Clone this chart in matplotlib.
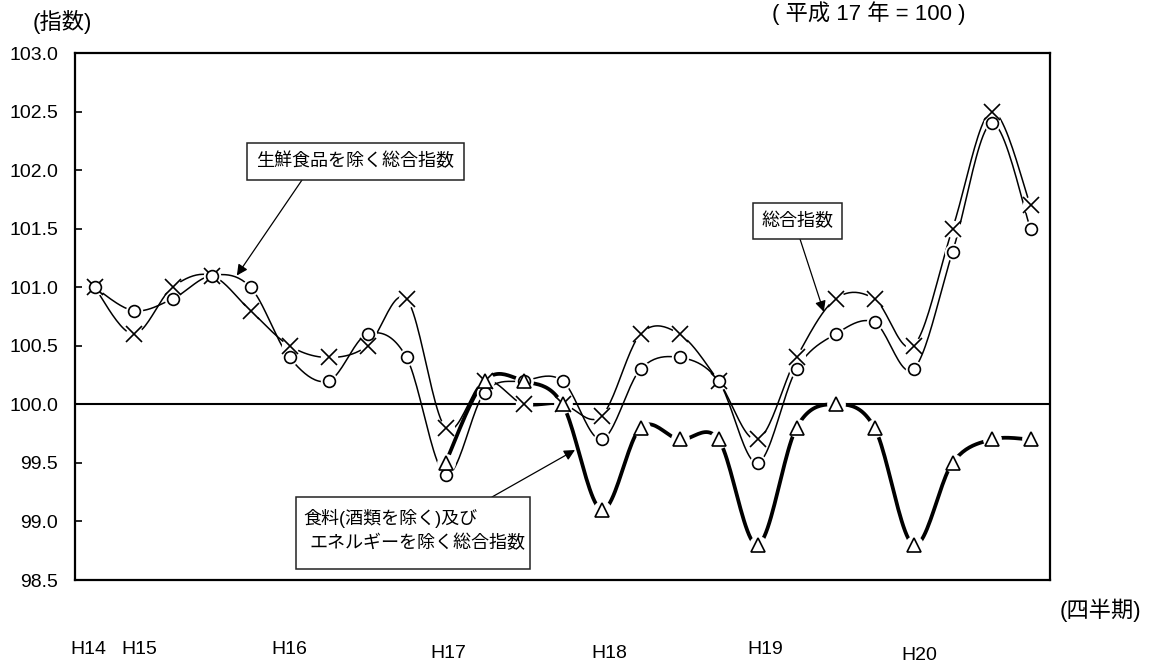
import numpy as np
import matplotlib
matplotlib.use("Agg")
import matplotlib.pyplot as plt
from matplotlib.patches import Rectangle

plt.rcParams['font.family'] = ['Liberation Sans', 'Noto Sans CJK JP', 'DejaVu Sans']

# ---- data: quarterly consumer price index (H17 = 100) ----
quarters = list(range(25))
headline = [101.0, 100.6, 101.0, 101.1, 100.8, 100.5, 100.4, 100.5, 100.9, 99.8,
            100.2, 100.0, 100.0, 99.9, 100.6, 100.6, 100.2, 99.7, 100.4, 100.9,
            100.9, 100.5, 101.5, 102.5, 101.7]
ex_fresh = [101.0, 100.8, 100.9, 101.1, 101.0, 100.4, 100.2, 100.6, 100.4, 99.4,
            100.1, 100.2, 100.2, 99.7, 100.3, 100.4, 100.2, 99.5, 100.3, 100.6,
            100.7, 100.3, 101.3, 102.4, 101.5]
core_start = 9
ex_food_energy = [99.5, 100.2, 100.2, 100.0, 99.1, 99.8, 99.7, 99.7, 98.8, 99.8,
                  100.0, 99.8, 98.8, 99.5, 99.7, 99.7]
year_labels = ["H14", "H15", "H16", "H17", "H18", "H19", "H20"]
y_ticks = [98.5, 99.0, 99.5, 100.0, 100.5, 101.0, 101.5, 102.0, 102.5, 103.0]

W, H = 1149, 666
fig = plt.figure(figsize=(W / 100, H / 100), dpi=100)


def fx(px):
    return px / W


def fy(py):
    return 1 - py / H


ax = fig.add_axes([fx(75), fy(580), fx(1050) - fx(75), fy(53) - fy(580)])
ax.set_xlim(-0.5, 24.5)
ax.set_ylim(98.5, 103.0)


def smooth(xs, ys, n=24):
    """Bezier smoothing through every point (Catmull-Rom style)."""
    P = np.column_stack([xs, ys]).astype(float)
    out = []
    for i in range(len(P) - 1):
        p0 = P[i - 1] if i > 0 else P[i]
        p1, p2 = P[i], P[i + 1]
        p3 = P[i + 2] if i + 2 < len(P) else P[i + 1]
        c1 = p1 + (p2 - p0) / 6
        c2 = p2 - (p3 - p1) / 6
        t = np.linspace(0, 1, n)[:, None]
        seg = ((1 - t) ** 3) * p1 + 3 * ((1 - t) ** 2) * t * c1 \
            + 3 * (1 - t) * (t ** 2) * c2 + (t ** 3) * p2
        out.append(seg if i == 0 else seg[1:])
    return np.vstack(out)


ax.axhline(100.0, color='black', lw=1.5, zorder=1)

series = [
    (quarters, headline, 'x', 11.0, 1.1, 12.5),
    (quarters, ex_fresh, 'o', 8.5, 1.1, 12.5),
    (quarters[core_start:], ex_food_energy, '^', 10.0, 2.7, 13.5),
]
# curves first, then a white halo under every marker, then the markers
for xs, ys, mk, ms, lw, halo in series:
    curve = smooth(xs, ys)
    ax.plot(curve[:, 0], curve[:, 1], color='black', lw=lw, zorder=2,
            solid_capstyle='round')
for xs, ys, mk, ms, lw, halo in series:
    ax.plot(xs, ys, linestyle='none', marker='o', ms=halo, mfc='white',
            mec='none', zorder=3)
for k, (xs, ys, mk, ms, lw, halo) in enumerate(series):
    ax.plot(xs, ys, linestyle='none', marker=mk, ms=ms, mfc='white',
            mec='black', mew=1.2, zorder=4 + k)

for s in ax.spines.values():
    s.set_linewidth(1.6)
    s.set_zorder(20)

ax.set_xticks([])
ax.set_yticks(y_ticks)
ax.set_yticklabels([f"{v:.1f}" for v in y_ticks])
ax.tick_params(axis='y', direction='in', length=5, width=1.2, pad=12,
               labelsize=14)

# axis captions
fig.text(fx(33), fy(22), "(指数)", fontsize=16, ha='left', va='center')
fig.text(fx(772), fy(1), "( 平成 17 年 = 100 )", fontsize=16, ha='left',
         va='top')
fig.text(fx(1141), fy(610), "(四半期)", fontsize=16, ha='right', va='center')

year_pos = [(88, 650), (139, 650), (289, 650), (448, 653), (609, 653),
            (765, 650), (919, 656)]
for lab, (px, py) in zip(year_labels, year_pos):
    fig.text(fx(px), fy(py), lab, fontsize=14, ha='center', va='center')


# callout boxes
def box(x0, y0, x1, y1):
    fig.add_artist(Rectangle((fx(x0), fy(y1)), fx(x1) - fx(x0), fy(y0) - fy(y1),
                             transform=fig.transFigure, facecolor='white',
                             edgecolor='#222222', lw=1.1, zorder=30))


def arrow(px, py, tx, ty):
    ax.annotate('', xy=(tx, ty), xycoords='data',
                xytext=(px, H - py), textcoords='figure pixels',
                arrowprops=dict(arrowstyle='-|>', color='black', lw=0.9,
                                mutation_scale=16, shrinkA=0, shrinkB=0),
                zorder=25)


box(247, 143, 464, 180)
fig.text(fx(355.5), fy(161.5), "生鮮食品を除く総合指数", fontsize=13,
         ha='center', va='center', zorder=31)
arrow(302, 180, 3.65, 101.10)

box(753, 203, 842, 239)
fig.text(fx(797.5), fy(221), "総合指数", fontsize=13, ha='center',
         va='center', zorder=31)
arrow(800, 239, 18.7, 100.79)

box(296, 497, 530, 569)
fig.text(fx(303), fy(518), "食料(酒類を除く)及び", fontsize=13, ha='left',
         va='center', zorder=31)
fig.text(fx(309), fy(543), "エネルギーを除く総合指数", fontsize=13, ha='left',
         va='center', zorder=31)
arrow(492, 497, 12.32, 99.61)

fig.savefig("out.png", dpi=100, facecolor='white')
